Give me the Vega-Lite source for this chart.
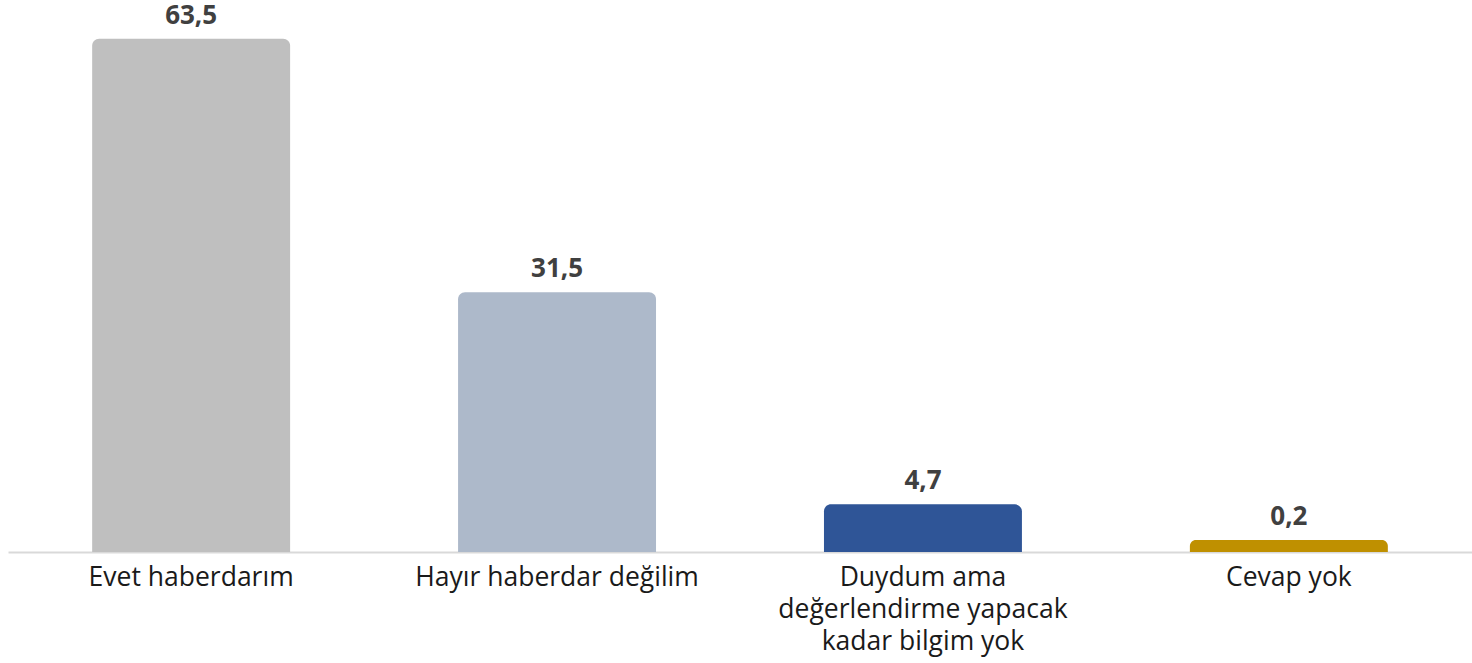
{
  "$schema": "https://vega.github.io/schema/vega-lite/v6.json",
  "width": 1464,
  "height": 552,
  "autosize": {"type": "none"},
  "padding": {"left": 8, "top": 0, "right": 0, "bottom": 111},
  "background": "white",
  "config": {
    "view": {"stroke": null},
    "locale": {"number": {"decimal": ",", "thousands": ".", "grouping": [3], "currency": ["", " TL"]}}
  },
  "data": {
    "values": [
      {"kategori": "Evet haberdarım", "deger": 63.5, "renk": "#bfbfbf"},
      {"kategori": "Hayır haberdar değilim", "deger": 31.5, "renk": "#adb9ca"},
      {"kategori": "Duydum ama|değerlendirme yapacak|kadar bilgim yok", "deger": 4.7, "renk": "#2f5597"},
      {"kategori": "Cevap yok", "deger": 0.2, "renk": "#bf9000"}
    ]
  },
  "encoding": {
    "x": {
      "field": "kategori",
      "type": "nominal",
      "sort": null,
      "scale": {"paddingInner": 0.459, "paddingOuter": 0.23},
      "axis": {
        "title": null,
        "labelAngle": 0,
        "labelFont": "Open Sans",
        "labelFontSize": 26.5,
        "labelColor": "#1a1a1a",
        "labelPadding": 12,
        "labelLineHeight": 32,
        "labelExpr": "split(datum.label, '|')",
        "ticks": false,
        "domainColor": "#d9d9d9",
        "domainWidth": 2,
        "labelLimit": 0
      }
    },
    "y": {
      "field": "deger",
      "type": "quantitative",
      "scale": {"domain": [-1.32, 68.4], "zero": false, "nice": false},
      "axis": null
    }
  },
  "layer": [
    {
      "mark": {"type": "bar", "cornerRadiusTopLeft": 7, "cornerRadiusTopRight": 7},
      "encoding": {
        "y2": {"datum": -1.32},
        "color": {"field": "renk", "type": "nominal", "scale": null}
      }
    },
    {
      "mark": {"type": "text", "baseline": "alphabetic", "dy": -15, "font": "Open Sans", "fontWeight": "bold", "fontSize": 26, "color": "#404040"},
      "encoding": {
        "text": {"field": "deger", "type": "quantitative", "format": ".1f"}
      }
    }
  ]
}
